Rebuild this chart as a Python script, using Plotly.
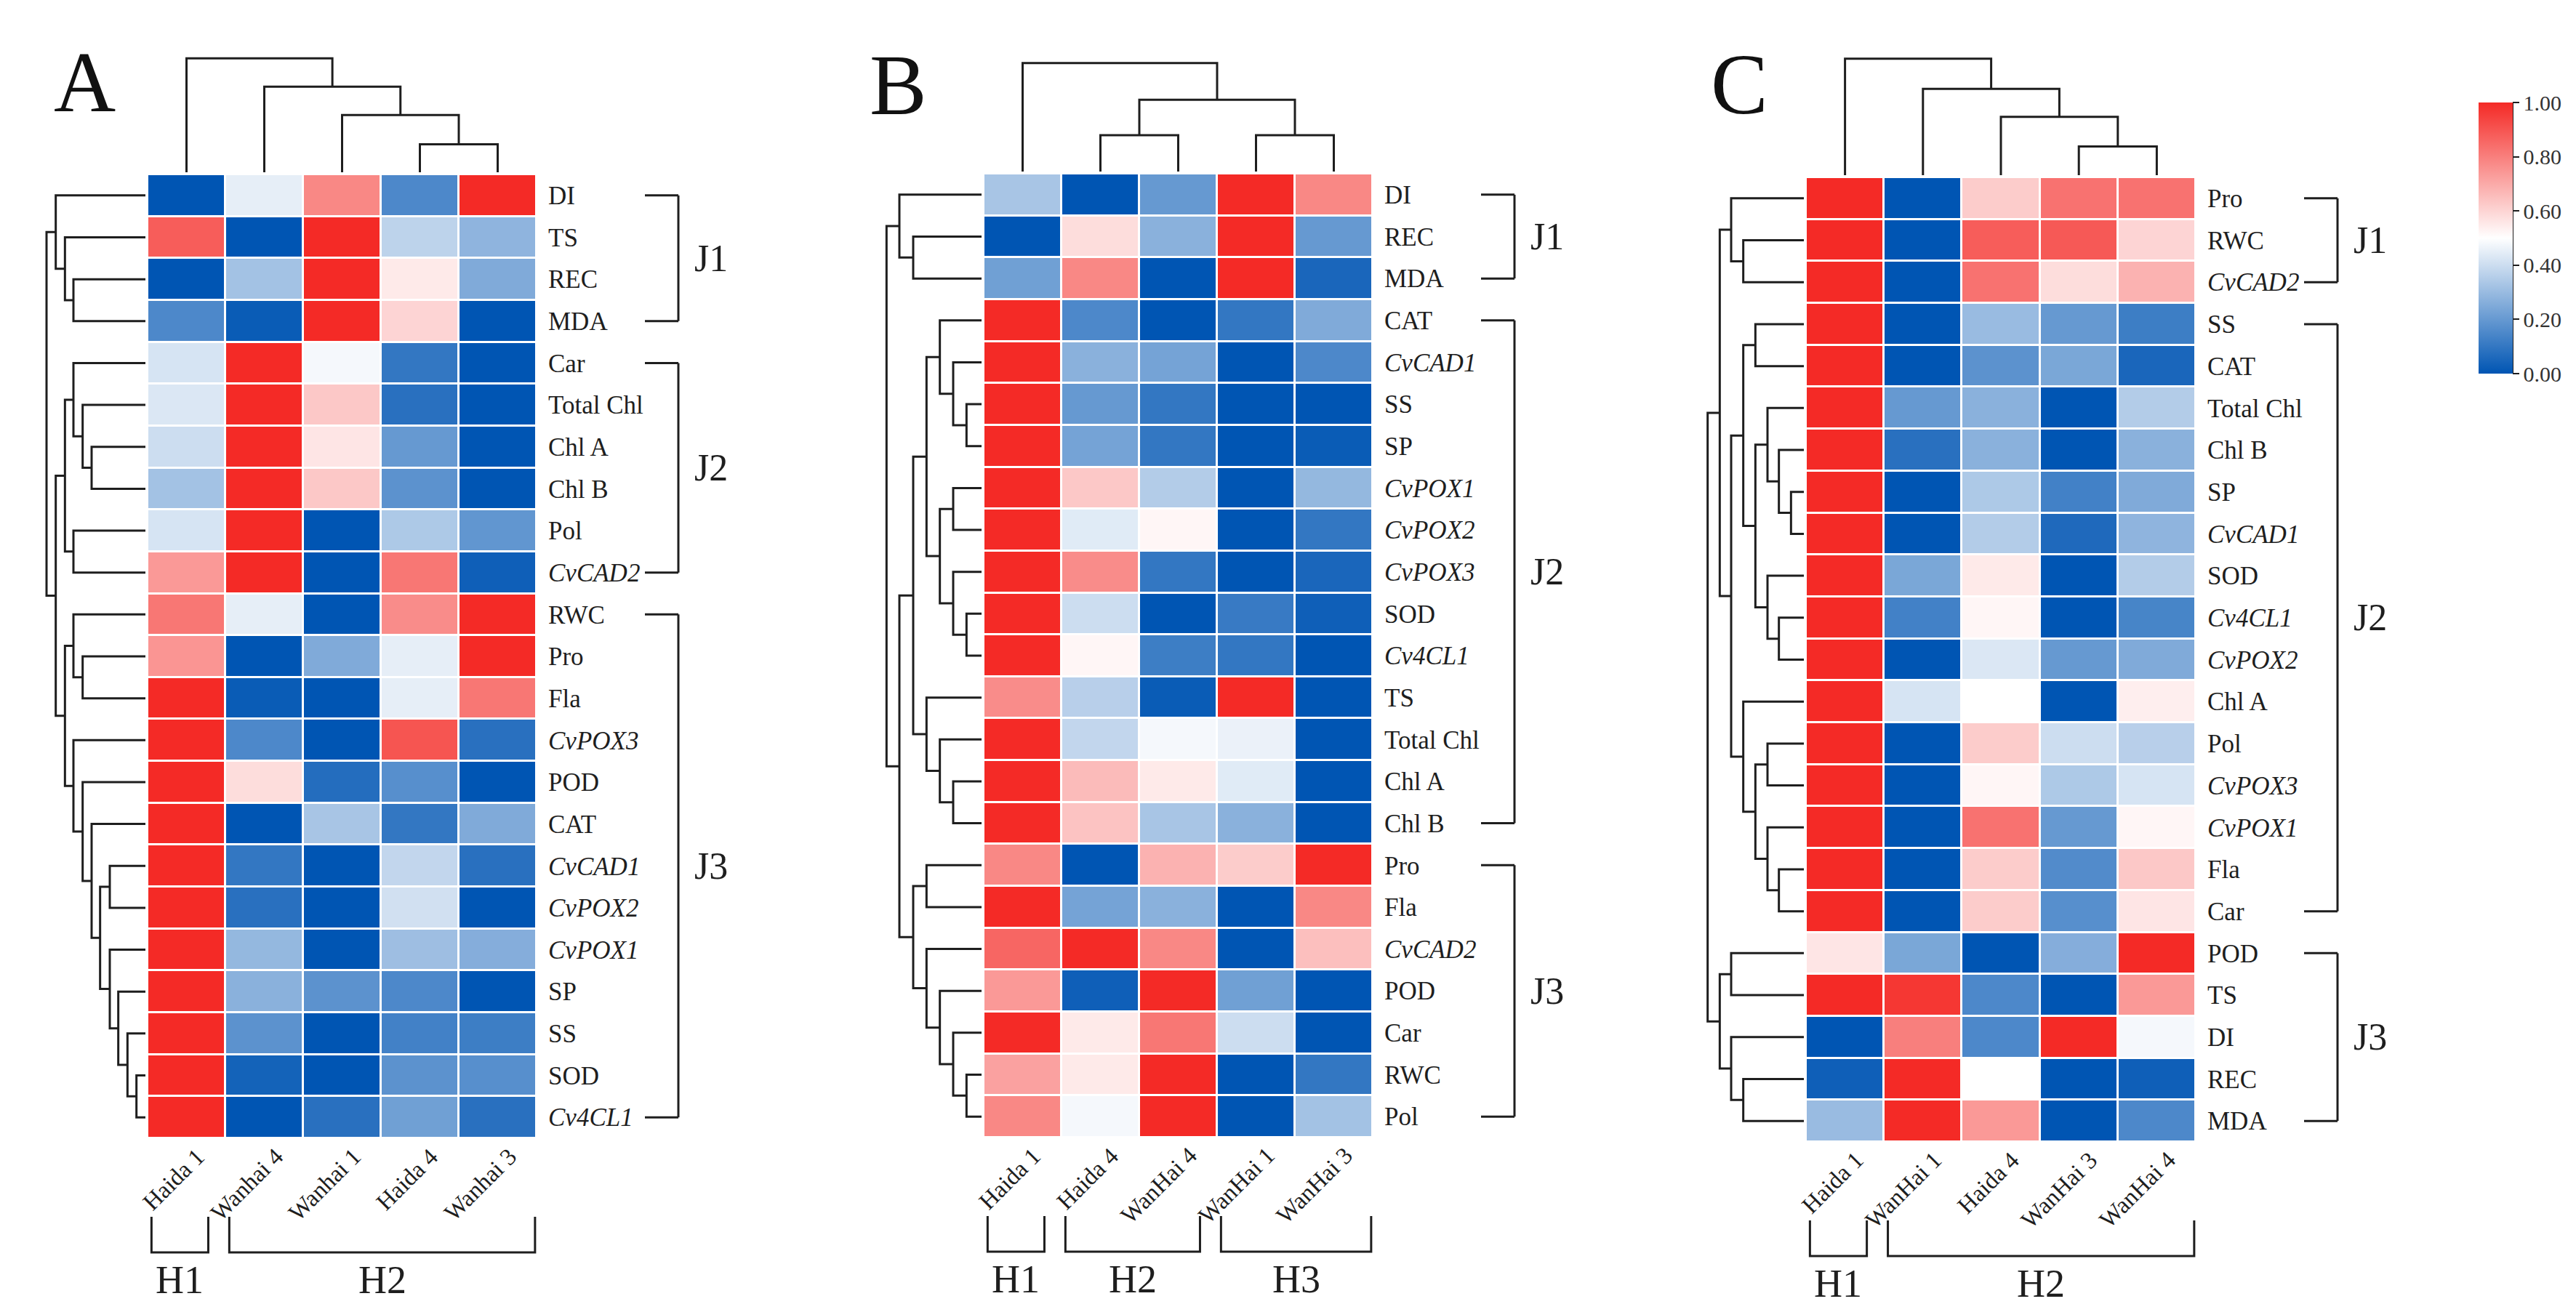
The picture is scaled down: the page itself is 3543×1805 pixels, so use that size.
import plotly.graph_objects as go

W, H = 3543, 1805

# ------------------------------------------------------------------ data
A_cols = ["Haida 1", "Wanhai 4", "Wanhai 1", "Haida 4", "Wanhai 3"]
A_rows = ["DI", "TS", "REC", "MDA", "Car", "Total Chl", "Chl A", "Chl B", "Pol", "CvCAD2",
          "RWC", "Pro", "Fla", "CvPOX3", "POD", "CAT", "CvCAD1", "CvPOX2", "CvPOX1", "SP",
          "SS", "SOD", "Cv4CL1"]
A_vals = [
    [0.00, 0.45, 0.78, 0.15, 1.00],
    [0.88, 0.00, 1.00, 0.37, 0.28],
    [0.00, 0.32, 1.00, 0.55, 0.25],
    [0.15, 0.02, 1.00, 0.60, 0.00],
    [0.42, 1.00, 0.48, 0.10, 0.00],
    [0.43, 1.00, 0.63, 0.08, 0.00],
    [0.40, 1.00, 0.56, 0.20, 0.00],
    [0.32, 1.00, 0.63, 0.18, 0.00],
    [0.42, 1.00, 0.00, 0.34, 0.19],
    [0.74, 1.00, 0.00, 0.82, 0.03],
    [0.82, 0.45, 0.00, 0.77, 1.00],
    [0.75, 0.00, 0.25, 0.45, 1.00],
    [1.00, 0.02, 0.00, 0.45, 0.82],
    [1.00, 0.15, 0.00, 0.90, 0.08],
    [1.00, 0.58, 0.07, 0.17, 0.00],
    [1.00, 0.00, 0.33, 0.10, 0.25],
    [1.00, 0.10, 0.00, 0.38, 0.08],
    [1.00, 0.08, 0.00, 0.41, 0.00],
    [1.00, 0.29, 0.00, 0.31, 0.26],
    [1.00, 0.27, 0.18, 0.15, 0.00],
    [1.00, 0.18, 0.00, 0.13, 0.12],
    [1.00, 0.04, 0.00, 0.18, 0.17],
    [1.00, 0.00, 0.08, 0.22, 0.08],
]
A_row_tree = (
    ("DI", ("TS", ("REC", "MDA", 297), 332), 370),
    (
        (("Car", ("Total Chl", ("Chl A", "Chl B", 222), 259), 297), ("Pol", "CvCAD2", 297), 332),
        (("RWC", ("Pro", "Fla", 259), 297),
         ("CvPOX3", ("POD", ("CAT", (("CvCAD1", "CvPOX2", 147),
                                     ("CvPOX1", ("SP", ("SS", ("SOD", "Cv4CL1", 37), 74), 112), 147),
                                     187), 222), 259), 297), 332),
        370),
    408)
A_col_tree = ("Haida 1", ("Wanhai 4", ("Wanhai 1", ("Haida 4", "Wanhai 3", 67), 137), 205), 273)
A_row_groups = [("J1", "DI", "MDA"), ("J2", "Car", "CvCAD2"), ("J3", "RWC", "Cv4CL1")]
A_col_groups = [("H1", "Haida 1", "Haida 1"), ("H2", "Wanhai 4", "Wanhai 3")]

B_cols = ["Haida 1", "Haida 4", "WanHai 4", "WanHai 1", "WanHai 3"]
B_rows = ["DI", "REC", "MDA", "CAT", "CvCAD1", "SS", "SP", "CvPOX1", "CvPOX2", "CvPOX3",
          "SOD", "Cv4CL1", "TS", "Total Chl", "Chl A", "Chl B", "Pro", "Fla", "CvCAD2", "POD",
          "Car", "RWC", "Pol"]
B_vals = [
    [0.33, 0.00, 0.20, 1.00, 0.78],
    [0.00, 0.58, 0.27, 1.00, 0.20],
    [0.22, 0.78, 0.00, 1.00, 0.05],
    [1.00, 0.15, 0.00, 0.10, 0.25],
    [1.00, 0.27, 0.23, 0.00, 0.15],
    [1.00, 0.20, 0.10, 0.00, 0.00],
    [1.00, 0.23, 0.10, 0.00, 0.02],
    [1.00, 0.63, 0.35, 0.00, 0.29],
    [1.00, 0.44, 0.52, 0.00, 0.10],
    [1.00, 0.77, 0.10, 0.00, 0.05],
    [1.00, 0.40, 0.00, 0.11, 0.03],
    [1.00, 0.52, 0.12, 0.10, 0.00],
    [0.77, 0.36, 0.02, 1.00, 0.00],
    [1.00, 0.38, 0.48, 0.46, 0.00],
    [1.00, 0.66, 0.55, 0.44, 0.00],
    [1.00, 0.64, 0.33, 0.27, 0.00],
    [0.78, 0.00, 0.68, 0.62, 1.00],
    [1.00, 0.23, 0.27, 0.00, 0.78],
    [0.86, 1.00, 0.78, 0.00, 0.65],
    [0.74, 0.03, 1.00, 0.22, 0.00],
    [1.00, 0.55, 0.82, 0.40, 0.00],
    [0.72, 0.55, 1.00, 0.00, 0.10],
    [0.78, 0.48, 1.00, 0.00, 0.32],
]
B_row_tree = (
    ("DI", ("REC", "MDA", 282), 339),
    (
        (((("CAT", ("CvCAD1", ("SS", "SP", 62), 117), 172)),
          (("CvPOX1", "CvPOX2", 117), ("CvPOX3", ("SOD", "Cv4CL1", 62), 117), 172), 227),
         ("TS", ("Total Chl", ("Chl A", "Chl B", 117), 172), 227), 282),
        (("Pro", "Fla", 227), ("CvCAD2", ("POD", ("Car", ("RWC", "Pol", 62), 117), 172), 227), 282),
        339),
    392)
B_col_tree = ("Haida 1", (("Haida 4", "WanHai 4", 87), ("WanHai 1", "WanHai 3", 87), 172), 260)
B_row_groups = [("J1", "DI", "MDA"), ("J2", "CAT", "Chl B"), ("J3", "Pro", "Pol")]
B_col_groups = [("H1", "Haida 1", "Haida 1"), ("H2", "Haida 4", "WanHai 4"), ("H3", "WanHai 1", "WanHai 3")]

C_cols = ["Haida 1", "WanHai 1", "Haida 4", "WanHai 3", "WanHai 4"]
C_rows = ["Pro", "RWC", "CvCAD2", "SS", "CAT", "Total Chl", "Chl B", "SP", "CvCAD1", "SOD",
          "Cv4CL1", "CvPOX2", "Chl A", "Pol", "CvPOX3", "CvPOX1", "Fla", "Car", "POD", "TS",
          "DI", "REC", "MDA"]
C_vals = [
    [1.00, 0.00, 0.62, 0.83, 0.83],
    [1.00, 0.00, 0.88, 0.89, 0.60],
    [1.00, 0.00, 0.83, 0.58, 0.68],
    [1.00, 0.00, 0.30, 0.20, 0.12],
    [1.00, 0.00, 0.18, 0.24, 0.05],
    [1.00, 0.20, 0.27, 0.00, 0.35],
    [1.00, 0.08, 0.27, 0.00, 0.27],
    [1.00, 0.00, 0.34, 0.13, 0.25],
    [1.00, 0.00, 0.35, 0.06, 0.28],
    [1.00, 0.24, 0.55, 0.00, 0.35],
    [1.00, 0.13, 0.52, 0.00, 0.14],
    [1.00, 0.00, 0.43, 0.20, 0.25],
    [1.00, 0.42, 0.50, 0.00, 0.54],
    [1.00, 0.00, 0.62, 0.40, 0.36],
    [1.00, 0.00, 0.52, 0.34, 0.42],
    [1.00, 0.00, 0.83, 0.20, 0.52],
    [1.00, 0.00, 0.62, 0.16, 0.63],
    [1.00, 0.00, 0.62, 0.17, 0.56],
    [0.56, 0.24, 0.00, 0.26, 1.00],
    [1.00, 0.97, 0.15, 0.00, 0.74],
    [0.00, 0.80, 0.15, 1.00, 0.48],
    [0.03, 1.00, 0.50, 0.00, 0.03],
    [0.30, 1.00, 0.74, 0.00, 0.15],
]
C_row_tree = (
    (("Pro", ("RWC", "CvCAD2", 250), 300),
     ((("SS", "CAT", 200),
       (("Total Chl", ("Chl B", ("SP", "CvCAD1", 53), 103), 150),
        ("SOD", ("Cv4CL1", "CvPOX2", 103), 150), 200), 250),
      ("Chl A", (("Pol", "CvPOX3", 150), ("CvPOX1", ("Fla", "Car", 103), 150), 200), 250),
      300),
     347),
    (("POD", "TS", 300), ("DI", ("REC", "MDA", 250), 300), 347),
    397)
C_col_tree = ("Haida 1", ("WanHai 1", ("Haida 4", ("WanHai 3", "WanHai 4", 69), 140), 207), 279)
C_row_groups = [("J1", "Pro", "CvCAD2"), ("J2", "SS", "Car"), ("J3", "POD", "MDA")]
C_col_groups = [("H1", "Haida 1", "Haida 1"), ("H2", "WanHai 1", "WanHai 4")]

colorbar_ticks = [0.0, 0.2, 0.4, 0.6, 0.8, 1.0]

# ------------------------------------------------------------------ style / layout
FONT = "Liberation Serif"
INK = "#1e1e1e"
BLUE, WHITE, RED = "#0055B3", "#FFFFFF", "#F42A26"
colorscale = [[0.0, BLUE], [0.5, WHITE], [1.0, RED]]

ROW_PPU = 1 / 3.0     # px per row-dendrogram height unit
COL_PPU = 0.574       # px per column-dendrogram height unit

panels = [
    dict(letter="A", cols=A_cols, rows=A_rows, vals=A_vals, rtree=A_row_tree, ctree=A_col_tree,
         rgroups=A_row_groups, cgroups=A_col_groups, box=(195, 730, 232, 1558), lpos=(108, 106)),
    dict(letter="B", cols=B_cols, rows=B_rows, vals=B_vals, rtree=B_row_tree, ctree=B_col_tree,
         rgroups=B_row_groups, cgroups=B_col_groups, box=(1345, 1880, 231, 1557), lpos=(1227, 110)),
    dict(letter="C", cols=C_cols, rows=C_rows, vals=C_vals, rtree=C_row_tree, ctree=C_col_tree,
         rgroups=C_row_groups, cgroups=C_col_groups, box=(2476, 3012, 236, 1563), lpos=(2384, 108)),
]


def fx(px):
    return px / W


def fy(py):
    return 1 - py / H


def dendro_paths(tree, order):
    pos = {lab: i for i, lab in enumerate(order)}
    P, Hh = [], []

    def walk(node):
        if isinstance(node, str):
            return pos[node], 0.0
        l, r, h = node
        pl, hl = walk(l)
        pr, hr = walk(r)
        P.extend([pl, pl, pr, pr, None])
        Hh.extend([hl, h, h, hr, None])
        return (pl + pr) / 2.0, h

    _, root = walk(tree)
    return P, Hh, root


fig = go.Figure()
layout = dict(width=W, height=H, margin=dict(l=0, r=0, t=0, b=0),
              paper_bgcolor="white", plot_bgcolor="white", showlegend=False,
              font=dict(family=FONT, color=INK))
shapes, annos = [], []

for k, p in enumerate(panels):
    hx, ry, cy = 3 * k + 1, 3 * k + 2, 3 * k + 3
    x0, x1, y0, y1 = p["box"]
    nrow, ncol = len(p["rows"]), len(p["cols"])
    sfx = lambda n: "" if n == 1 else str(n)

    # heatmap
    fig.add_trace(go.Heatmap(
        z=p["vals"], x=list(range(ncol)), y=list(range(nrow)),
        zmin=0, zmax=1, colorscale=colorscale, xgap=3, ygap=3,
        showscale=(p["letter"] == "C"),
        colorbar=dict(x=fx(3401), xanchor="left", y=fy(133), yanchor="top",
                      len=373, lenmode="pixels", thickness=47, thicknessmode="pixels",
                      xpad=0, ypad=0, outlinewidth=0, tickvals=colorbar_ticks,
                      ticktext=[f"{v:.2f}" for v in colorbar_ticks], ticks="outside",
                      ticklen=9, tickwidth=2, tickcolor=INK,
                      tickfont=dict(family=FONT, size=30, color="#333333")),
        xaxis="x" + sfx(hx), yaxis="y" + sfx(hx), hoverinfo="skip"))
    ticktext = [f"<i>{r}</i>" if r.startswith("Cv") else r for r in p["rows"]]
    layout["xaxis" + sfx(hx)] = dict(domain=[fx(x0), fx(x1)], range=[-0.5, ncol - 0.5],
                                     showticklabels=False, ticks="",
                                     showgrid=False, zeroline=False, showline=False,
                                     anchor="y" + sfx(hx))
    layout["yaxis" + sfx(hx)] = dict(domain=[fy(y1), fy(y0)], range=[nrow - 0.5, -0.5],
                                     tickvals=list(range(nrow)), ticktext=ticktext, side="right",
                                     ticks="outside", ticklen=8, tickcolor="rgba(0,0,0,0)",
                                     tickfont=dict(size=35, family=FONT, color=INK),
                                     showgrid=False, zeroline=False, showline=False,
                                     anchor="x" + sfx(hx))

    # rotated column labels
    for i, c in enumerate(p["cols"]):
        annos.append(dict(text=c, xref="x" + sfx(hx), yref="paper", x=i + 0.33, y=fy(y1 + 4),
                          textangle=-45, xanchor="right", yanchor="top", showarrow=False,
                          font=dict(size=33, family=FONT, color=INK)))

    # row dendrogram
    P, Hh, root = dendro_paths(p["rtree"], p["rows"])
    pad = 4
    right = x0 - 3
    left = right - root * ROW_PPU - pad
    fig.add_trace(go.Scatter(x=Hh, y=P, mode="lines", line=dict(color=INK, width=3),
                             xaxis="x" + sfx(ry), yaxis="y" + sfx(ry), hoverinfo="skip"))
    layout["xaxis" + sfx(ry)] = dict(domain=[fx(left), fx(right)],
                                     range=[root + pad / ROW_PPU, 0], visible=False,
                                     anchor="y" + sfx(ry))
    layout["yaxis" + sfx(ry)] = dict(domain=[fy(y1), fy(y0)], range=[nrow - 0.5, -0.5],
                                     visible=False, anchor="x" + sfx(ry))

    # column dendrogram
    P, Hh, root = dendro_paths(p["ctree"], p["cols"])
    bottom = y0 - 3
    top = bottom - root * COL_PPU - pad
    fig.add_trace(go.Scatter(x=P, y=Hh, mode="lines", line=dict(color=INK, width=3),
                             xaxis="x" + sfx(cy), yaxis="y" + sfx(cy), hoverinfo="skip"))
    layout["xaxis" + sfx(cy)] = dict(domain=[fx(x0), fx(x1)], range=[-0.5, ncol - 0.5],
                                     visible=False, anchor="y" + sfx(cy))
    layout["yaxis" + sfx(cy)] = dict(domain=[fy(bottom), fy(top)],
                                     range=[0, root + pad / COL_PPU], visible=False,
                                     anchor="x" + sfx(cy))

    # row cluster brackets (J)
    yref = "y" + sfx(hx)
    xs, xv, xl = x1 + 149, x1 + 195, x1 + 240
    for name, a, b in p["rgroups"]:
        ia, ib = p["rows"].index(a), p["rows"].index(b)
        for yy in (ia, ib):
            shapes.append(dict(type="line", xref="paper", yref=yref, x0=fx(xs), x1=fx(xv),
                               y0=yy, y1=yy, line=dict(color=INK, width=3)))
        shapes.append(dict(type="line", xref="paper", yref=yref, x0=fx(xv), x1=fx(xv),
                           y0=ia, y1=ib, line=dict(color=INK, width=3)))
        annos.append(dict(text=name, xref="paper", yref=yref, x=fx(xl), y=(ia + ib) / 2,
                          showarrow=False, xanchor="center", yanchor="middle",
                          font=dict(size=52, family=FONT, color=INK)))

    # column cluster brackets (H)
    xref = "x" + sfx(hx)
    yt, yb, ylab = y1 + 108, y1 + 157, y1 + 195
    for gi, (name, a, b) in enumerate(p["cgroups"]):
        ia, ib = p["cols"].index(a), p["cols"].index(b)
        xa = ia - 0.45
        xb = ib + (0.48 if gi == len(p["cgroups"]) - 1 else 0.28)
        shapes.append(dict(type="path", xref=xref, yref="paper",
                           path=f"M {xa},{fy(yt)} L {xa},{fy(yb)} L {xb},{fy(yb)} L {xb},{fy(yt)}",
                           line=dict(color=INK, width=3)))
        annos.append(dict(text=name, xref=xref, yref="paper", x=(xa + xb) / 2, y=fy(ylab),
                          showarrow=False, xanchor="center", yanchor="middle",
                          font=dict(size=54, family=FONT, color=INK)))

    # panel letter
    annos.append(dict(text=p["letter"], xref="paper", yref="paper", x=fx(p["lpos"][0]),
                      y=fy(p["lpos"][1]), showarrow=False, xanchor="center", yanchor="middle",
                      font=dict(size=118, family=FONT, color="#111111")))

# colorbar axis line
shapes.append(dict(type="line", xref="paper", yref="paper", x0=fx(3448), x1=fx(3448),
                   y0=fy(133), y1=fy(506), line=dict(color=INK, width=2)))

layout["shapes"] = shapes
layout["annotations"] = annos
fig.update_layout(**layout)
fig.write_html("out.html")
